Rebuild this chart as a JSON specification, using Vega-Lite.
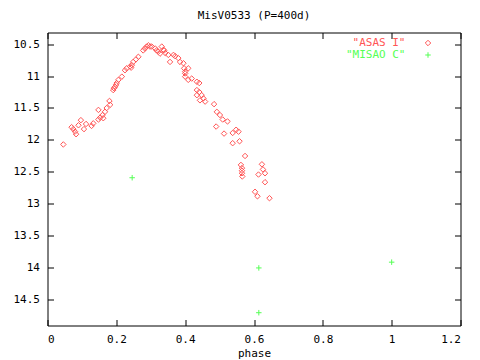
{
  "$schema": "https://vega.github.io/schema/vega-lite/v6.json",
  "width": 413,
  "height": 293,
  "autosize": {"type": "none"},
  "padding": {"left": 47.5, "top": 32.5, "right": 19.5, "bottom": 34.5},
  "background": "white",
  "title": {"text": "MisV0533 (P=400d)", "font": "DejaVu Sans Mono", "fontSize": 11, "fontWeight": "normal", "offset": 11, "anchor": "middle", "color": "black"},
  "config": {
    "view": {"stroke": "black", "strokeWidth": 1},
    "axis": {"grid": false, "domain": false, "tickColor": "black", "tickSize": -6, "tickWidth": 1, "labelFont": "DejaVu Sans Mono", "labelFontSize": 11, "labelColor": "black", "titleFont": "DejaVu Sans Mono", "titleFontSize": 11, "titleFontWeight": "normal", "titleColor": "black", "format": "~g"},
    "legend": {"orient": "none", "legendX": 375, "legendY": 5, "padding": 0, "labelAlign": "right", "labelOffset": -28, "labelFont": "DejaVu Sans Mono", "labelFontSize": 11, "symbolStrokeWidth": 1, "symbolSize": 30, "rowPadding": 0, "symbolOffset": 0}
  },
  "data": {"values": [
    {"phase": 0.046, "mag": 12.07, "series": "ASAS I"},
    {"phase": 0.070, "mag": 11.80, "series": "ASAS I"},
    {"phase": 0.080, "mag": 11.87, "series": "ASAS I"},
    {"phase": 0.083, "mag": 11.91, "series": "ASAS I"},
    {"phase": 0.075, "mag": 11.83, "series": "ASAS I"},
    {"phase": 0.090, "mag": 11.77, "series": "ASAS I"},
    {"phase": 0.097, "mag": 11.69, "series": "ASAS I"},
    {"phase": 0.106, "mag": 11.83, "series": "ASAS I"},
    {"phase": 0.112, "mag": 11.75, "series": "ASAS I"},
    {"phase": 0.128, "mag": 11.78, "series": "ASAS I"},
    {"phase": 0.133, "mag": 11.74, "series": "ASAS I"},
    {"phase": 0.148, "mag": 11.68, "series": "ASAS I"},
    {"phase": 0.153, "mag": 11.65, "series": "ASAS I"},
    {"phase": 0.162, "mag": 11.66, "series": "ASAS I"},
    {"phase": 0.148, "mag": 11.53, "series": "ASAS I"},
    {"phase": 0.160, "mag": 11.61, "series": "ASAS I"},
    {"phase": 0.167, "mag": 11.56, "series": "ASAS I"},
    {"phase": 0.172, "mag": 11.50, "series": "ASAS I"},
    {"phase": 0.180, "mag": 11.39, "series": "ASAS I"},
    {"phase": 0.182, "mag": 11.45, "series": "ASAS I"},
    {"phase": 0.191, "mag": 11.22, "series": "ASAS I"},
    {"phase": 0.193, "mag": 11.19, "series": "ASAS I"},
    {"phase": 0.196, "mag": 11.17, "series": "ASAS I"},
    {"phase": 0.199, "mag": 11.14, "series": "ASAS I"},
    {"phase": 0.201, "mag": 11.11, "series": "ASAS I"},
    {"phase": 0.206, "mag": 11.06, "series": "ASAS I"},
    {"phase": 0.216, "mag": 11.01, "series": "ASAS I"},
    {"phase": 0.225, "mag": 10.91, "series": "ASAS I"},
    {"phase": 0.230, "mag": 10.88, "series": "ASAS I"},
    {"phase": 0.240, "mag": 10.85, "series": "ASAS I"},
    {"phase": 0.243, "mag": 10.87, "series": "ASAS I"},
    {"phase": 0.245, "mag": 10.83, "series": "ASAS I"},
    {"phase": 0.249, "mag": 10.78, "series": "ASAS I"},
    {"phase": 0.257, "mag": 10.74, "series": "ASAS I"},
    {"phase": 0.264, "mag": 10.70, "series": "ASAS I"},
    {"phase": 0.278, "mag": 10.60, "series": "ASAS I"},
    {"phase": 0.283, "mag": 10.57, "series": "ASAS I"},
    {"phase": 0.288, "mag": 10.54, "series": "ASAS I"},
    {"phase": 0.293, "mag": 10.52, "series": "ASAS I"},
    {"phase": 0.298, "mag": 10.54, "series": "ASAS I"},
    {"phase": 0.303, "mag": 10.54, "series": "ASAS I"},
    {"phase": 0.313, "mag": 10.57, "series": "ASAS I"},
    {"phase": 0.322, "mag": 10.62, "series": "ASAS I"},
    {"phase": 0.332, "mag": 10.54, "series": "ASAS I"},
    {"phase": 0.337, "mag": 10.59, "series": "ASAS I"},
    {"phase": 0.342, "mag": 10.64, "series": "ASAS I"},
    {"phase": 0.351, "mag": 10.67, "series": "ASAS I"},
    {"phase": 0.356, "mag": 10.78, "series": "ASAS I"},
    {"phase": 0.366, "mag": 10.67, "series": "ASAS I"},
    {"phase": 0.371, "mag": 10.69, "series": "ASAS I"},
    {"phase": 0.395, "mag": 10.80, "series": "ASAS I"},
    {"phase": 0.397, "mag": 10.88, "series": "ASAS I"},
    {"phase": 0.400, "mag": 10.93, "series": "ASAS I"},
    {"phase": 0.400, "mag": 11.01, "series": "ASAS I"},
    {"phase": 0.409, "mag": 11.06, "series": "ASAS I"},
    {"phase": 0.317, "mag": 10.60, "series": "ASAS I"},
    {"phase": 0.327, "mag": 10.65, "series": "ASAS I"},
    {"phase": 0.339, "mag": 10.60, "series": "ASAS I"},
    {"phase": 0.380, "mag": 10.72, "series": "ASAS I"},
    {"phase": 0.385, "mag": 10.78, "series": "ASAS I"},
    {"phase": 0.400, "mag": 10.96, "series": "ASAS I"},
    {"phase": 0.409, "mag": 10.88, "series": "ASAS I"},
    {"phase": 0.419, "mag": 11.04, "series": "ASAS I"},
    {"phase": 0.434, "mag": 11.09, "series": "ASAS I"},
    {"phase": 0.441, "mag": 11.11, "series": "ASAS I"},
    {"phase": 0.434, "mag": 11.22, "series": "ASAS I"},
    {"phase": 0.441, "mag": 11.25, "series": "ASAS I"},
    {"phase": 0.448, "mag": 11.30, "series": "ASAS I"},
    {"phase": 0.453, "mag": 11.35, "series": "ASAS I"},
    {"phase": 0.458, "mag": 11.40, "series": "ASAS I"},
    {"phase": 0.434, "mag": 11.30, "series": "ASAS I"},
    {"phase": 0.443, "mag": 11.38, "series": "ASAS I"},
    {"phase": 0.484, "mag": 11.44, "series": "ASAS I"},
    {"phase": 0.492, "mag": 11.56, "series": "ASAS I"},
    {"phase": 0.501, "mag": 11.61, "series": "ASAS I"},
    {"phase": 0.509, "mag": 11.68, "series": "ASAS I"},
    {"phase": 0.523, "mag": 11.71, "series": "ASAS I"},
    {"phase": 0.490, "mag": 11.79, "series": "ASAS I"},
    {"phase": 0.513, "mag": 11.90, "series": "ASAS I"},
    {"phase": 0.538, "mag": 11.89, "series": "ASAS I"},
    {"phase": 0.548, "mag": 11.84, "series": "ASAS I"},
    {"phase": 0.555, "mag": 11.87, "series": "ASAS I"},
    {"phase": 0.558, "mag": 12.02, "series": "ASAS I"},
    {"phase": 0.538, "mag": 12.05, "series": "ASAS I"},
    {"phase": 0.574, "mag": 12.25, "series": "ASAS I"},
    {"phase": 0.562, "mag": 12.39, "series": "ASAS I"},
    {"phase": 0.565, "mag": 12.44, "series": "ASAS I"},
    {"phase": 0.565, "mag": 12.48, "series": "ASAS I"},
    {"phase": 0.565, "mag": 12.52, "series": "ASAS I"},
    {"phase": 0.566, "mag": 12.57, "series": "ASAS I"},
    {"phase": 0.623, "mag": 12.38, "series": "ASAS I"},
    {"phase": 0.626, "mag": 12.46, "series": "ASAS I"},
    {"phase": 0.613, "mag": 12.54, "series": "ASAS I"},
    {"phase": 0.632, "mag": 12.52, "series": "ASAS I"},
    {"phase": 0.632, "mag": 12.66, "series": "ASAS I"},
    {"phase": 0.603, "mag": 12.81, "series": "ASAS I"},
    {"phase": 0.610, "mag": 12.88, "series": "ASAS I"},
    {"phase": 0.645, "mag": 12.91, "series": "ASAS I"},
    {"phase": 0.246, "mag": 12.59, "series": "MISAO C"},
    {"phase": 0.614, "mag": 14.00, "series": "MISAO C"},
    {"phase": 0.614, "mag": 14.70, "series": "MISAO C"},
    {"phase": 1.000, "mag": 13.91, "series": "MISAO C"}
  ]},
  "layer": [
    {
      "mark": {"type": "point", "filled": false, "strokeWidth": 1, "size": 30, "opacity": 1},
      "encoding": {
        "x": {"field": "phase", "type": "quantitative", "scale": {"domain": [0, 1.2], "nice": false, "zero": false},
              "axis": {"orient": "bottom", "values": [0, 0.2, 0.4, 0.6, 0.8, 1, 1.2], "title": "phase", "labelPadding": 14, "titlePadding": 3}},
        "y": {"field": "mag", "type": "quantitative", "scale": {"domain": [10.32, 14.9], "reverse": true, "nice": false, "zero": false},
              "axis": {"orient": "left", "values": [10.5, 11, 11.5, 12, 12.5, 13, 13.5, 14, 14.5], "title": null, "labelPadding": 14}},
        "color": {"field": "series", "type": "nominal", "scale": {"domain": ["ASAS I", "MISAO C"], "range": ["#ff5555", "#55ff55"]},
                  "legend": {"title": null, "labelExpr": "'\"' + datum.label + '\"'", "labelColor": {"expr": "datum.value === 'ASAS I' ? '#ff5555' : '#55ff55'"}}},
        "shape": {"field": "series", "type": "nominal", "scale": {"domain": ["ASAS I", "MISAO C"], "range": ["diamond", "M-1,0L1,0M0,-1L0,1"]},
                  "legend": {"title": null, "labelExpr": "'\"' + datum.label + '\"'", "labelColor": {"expr": "datum.value === 'ASAS I' ? '#ff5555' : '#55ff55'"}}}
      }
    },
    {
      "mark": {"type": "point", "opacity": 0},
      "encoding": {
        "x": {"field": "phase", "type": "quantitative", "axis": {"orient": "top", "values": [0, 0.2, 0.4, 0.6, 0.8, 1, 1.2], "labels": false, "title": null}},
        "y": {"field": "mag", "type": "quantitative", "axis": {"orient": "right", "values": [10.5, 11, 11.5, 12, 12.5, 13, 13.5, 14, 14.5], "labels": false, "title": null}}
      }
    }
  ],
  "resolve": {"axis": {"x": "independent", "y": "independent"}}
}
